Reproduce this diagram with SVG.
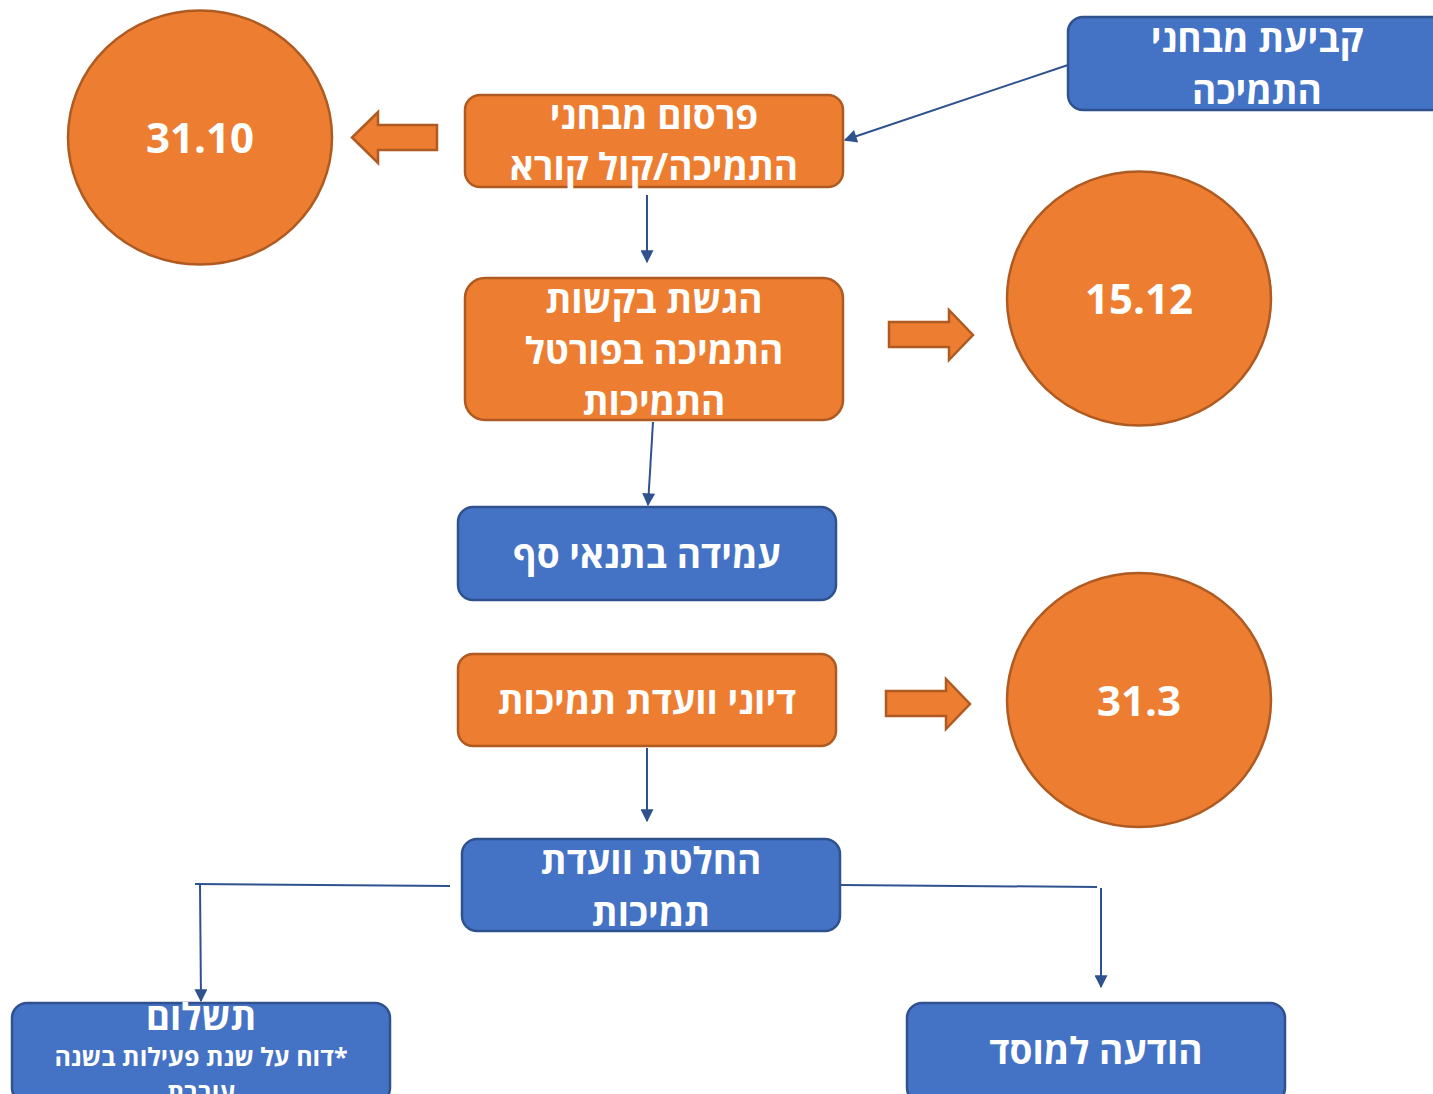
<svg xmlns="http://www.w3.org/2000/svg" width="1433" height="1094" viewBox="0 0 1433 1094">
<defs>
<style>
.o{fill:#ED7D31;stroke:#AE5A21;stroke-width:2.5}
.b{fill:#4472C4;stroke:#2F528F;stroke-width:2.5}
.t{fill:#fff;font-family:"Open Sans","DejaVu Sans",sans-serif;font-weight:bold;font-size:37px;text-anchor:middle;direction:rtl}
.n{fill:#fff;font-family:"Open Sans","DejaVu Sans",sans-serif;font-weight:bold;font-size:42px;text-anchor:middle}
.c{fill:none;stroke:#2F528F;stroke-width:2}
</style>
<marker id="ah" viewBox="0 0 10 10" refX="9" refY="5" markerWidth="15" markerHeight="13" markerUnits="userSpaceOnUse" orient="auto"><path d="M0,0 L10,5 L0,10 z" fill="#2F528F"/></marker>
</defs>
<rect width="1433" height="1094" fill="#fff"/>
<g id="connectors">
<line class="c" x1="1068" y1="65" x2="845" y2="140" marker-end="url(#ah)"/>
<line class="c" x1="647" y1="195" x2="647" y2="262" marker-end="url(#ah)"/>
<line class="c" x1="653" y1="422" x2="648" y2="505" marker-end="url(#ah)"/>
<line class="c" x1="647" y1="748" x2="647" y2="821" marker-end="url(#ah)"/>
<polyline class="c" points="450,886 195,884"/>
<line class="c" x1="200" y1="884" x2="201" y2="1001" marker-end="url(#ah)"/>
<polyline class="c" points="840,885 1097,887"/>
<line class="c" x1="1101" y1="888" x2="1101" y2="987" marker-end="url(#ah)"/>
</g>
<g id="c1"><ellipse class="o" cx="200" cy="137.5" rx="132" ry="127"/><text class="n" x="200" y="153">31.10</text></g>
<g id="arrow1"><path class="o" d="M437,125 L378,125 L378,112 L352,137.5 L378,163 L378,150 L437,150 Z"/></g>
<g id="n1"><rect class="o" x="465" y="95" width="378" height="92" rx="15"/><text class="t" x="654" y="129">פרסום מבחני</text><text class="t" x="654" y="180">התמיכה/קול קורא</text></g>
<g id="n0"><rect class="b" x="1068" y="17" width="380" height="93" rx="15"/><text class="t" x="1257" y="52">קביעת מבחני</text><text class="t" x="1257" y="104">התמיכה</text></g>
<g id="n2"><rect class="o" x="465" y="278" width="378" height="142" rx="20"/><text class="t" x="654" y="313">הגשת בקשות</text><text class="t" x="654" y="364">התמיכה בפורטל</text><text class="t" x="654" y="415">התמיכות</text></g>
<g id="arrow2"><path class="o" d="M889,322 L949,322 L949,310 L973,335 L949,360 L949,347 L889,347 Z"/></g>
<g id="c2"><ellipse class="o" cx="1139" cy="298.5" rx="132" ry="127"/><text class="n" x="1139" y="314">15.12</text></g>
<g id="n3"><rect class="b" x="458" y="507" width="378" height="93" rx="15"/><text class="t" x="647" y="568">עמידה בתנאי סף</text></g>
<g id="n4"><rect class="o" x="458" y="654" width="378" height="92" rx="15"/><text class="t" x="647" y="714">דיוני וועדת תמיכות</text></g>
<g id="arrow3"><path class="o" d="M886,691 L946,691 L946,679 L970,704 L946,729 L946,716 L886,716 Z"/></g>
<g id="c3"><ellipse class="o" cx="1139" cy="700" rx="132" ry="127"/><text class="n" x="1139" y="716">31.3</text></g>
<g id="n5"><rect class="b" x="462" y="839" width="378" height="92" rx="15"/><text class="t" x="651" y="874">החלטת וועדת</text><text class="t" x="651" y="926">תמיכות</text></g>
<g id="n6"><rect class="b" x="12" y="1003" width="378" height="100" rx="15"/><text class="t" x="201" y="1030">תשלום</text><text class="t" x="201" y="1066" style="font-size:25px">*דוח על שנת פעילות בשנה</text><text class="t" x="201" y="1101" style="font-size:25px">עוברת</text></g>
<g id="n7"><rect class="b" x="907" y="1003" width="378" height="100" rx="15"/><text class="t" x="1096" y="1064">הודעה למוסד</text></g>
</svg>
